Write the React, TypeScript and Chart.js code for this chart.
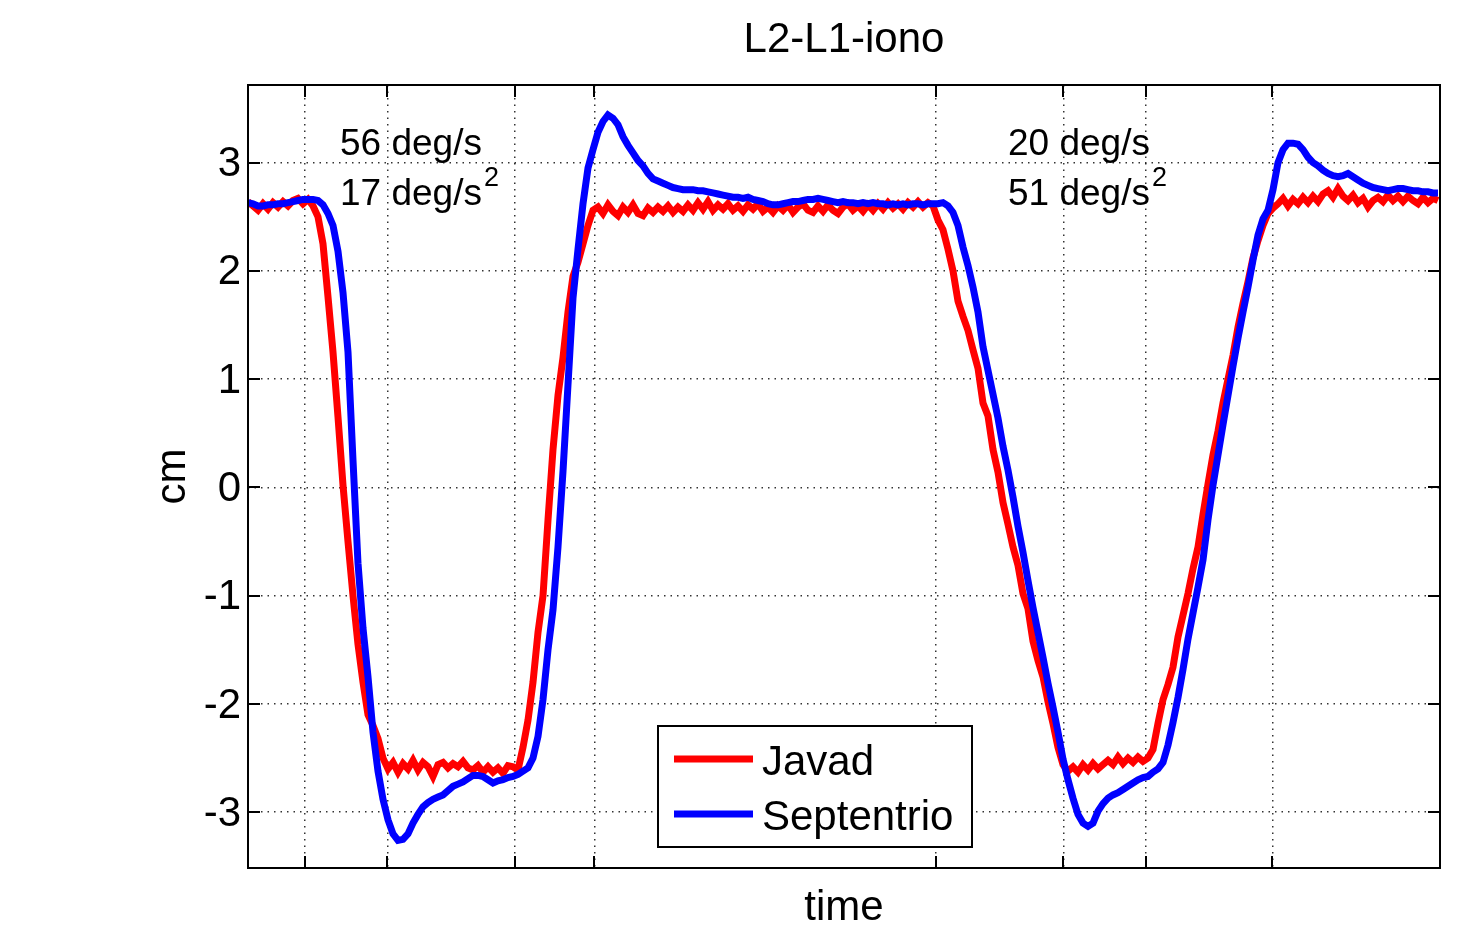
import { useEffect, useRef } from "react";
import { Chart, registerables } from "chart.js";

Chart.register(...registerables);

const FONT = "'Liberation Sans', Arial, Helvetica, sans-serif";

// Sampling interval of both receivers' series (seconds)
const SAMPLE_STEP = 0.5;

// L2-L1 ionospheric combination, cm — Javad receiver
const javad = [
  2.64, 2.6, 2.56, 2.62, 2.57, 2.63, 2.59, 2.64, 2.6, 2.65, 2.67, 2.62, 2.66,
  2.6, 2.5, 2.25, 1.76, 1.25, 0.65, 0.02, -0.5, -1.0, -1.45, -1.8, -2.1, -2.2, -2.32, -2.5,
  -2.6, -2.54, -2.63, -2.55, -2.6, -2.52, -2.61, -2.54, -2.58, -2.67, -2.56, -2.54, -2.59, -2.55,
  -2.58, -2.53, -2.59, -2.61, -2.57, -2.63, -2.58, -2.63, -2.59, -2.64, -2.57, -2.58, -2.61,
  -2.4, -2.15, -1.8, -1.34, -1.0, -0.3, 0.35, 0.85, 1.2, 1.62, 1.95, 2.08, 2.25, 2.42, 2.56,
  2.59, 2.53, 2.61, 2.55, 2.51, 2.59, 2.54, 2.61, 2.53, 2.51,
  2.58, 2.54, 2.59, 2.55, 2.6, 2.54, 2.59, 2.55, 2.61, 2.56,
  2.63, 2.57, 2.64, 2.56, 2.61, 2.57, 2.62, 2.56, 2.6, 2.55,
  2.61, 2.57, 2.62, 2.55, 2.59, 2.54, 2.6, 2.56, 2.61, 2.54,
  2.59, 2.62, 2.56, 2.54, 2.6, 2.55, 2.61, 2.56, 2.53, 2.59,
  2.62, 2.56, 2.6, 2.55, 2.61, 2.56, 2.62, 2.57, 2.63, 2.58,
  2.62, 2.57, 2.63, 2.59, 2.64, 2.59, 2.63, 2.6,
  2.47, 2.38, 2.2, 2.0, 1.72, 1.58, 1.45, 1.27, 1.1, 0.78, 0.66, 0.35, 0.14, -0.14, -0.34,
  -0.55, -0.72, -0.98, -1.12, -1.42, -1.6, -1.75, -1.98, -2.18, -2.4, -2.56, -2.62,
  -2.58, -2.63, -2.56, -2.61, -2.55, -2.6, -2.56, -2.52, -2.56, -2.49, -2.55, -2.5, -2.54,
  -2.49, -2.53, -2.5,
  -2.42, -2.18, -1.96, -1.82, -1.66, -1.38, -1.18, -0.98, -0.75, -0.55, -0.25, 0.03, 0.3,
  0.52, 0.78, 1.0, 1.22, 1.48, 1.7, 1.9, 2.12, 2.28, 2.42, 2.53, 2.58,
  2.62, 2.67, 2.6, 2.66, 2.62, 2.68, 2.63, 2.69, 2.64, 2.71, 2.74, 2.68, 2.76, 2.69, 2.65,
  2.7, 2.63, 2.67, 2.59, 2.65, 2.68, 2.64, 2.7, 2.65, 2.69, 2.64, 2.69, 2.65, 2.62, 2.68,
  2.63, 2.67, 2.65,
];

// L2-L1 ionospheric combination, cm — Septentrio receiver
const septentrio = [
  2.63, 2.62, 2.6, 2.6, 2.61, 2.61, 2.62, 2.62, 2.63, 2.64, 2.65, 2.66, 2.66, 2.66, 2.65,
  2.61, 2.53, 2.42, 2.18, 1.8, 1.25,
  0.25, -0.7, -1.3, -1.75, -2.26, -2.62, -2.88, -3.07, -3.2, -3.26,
  -3.25, -3.2, -3.1, -3.02, -2.95, -2.91, -2.88, -2.86, -2.84, -2.8,
  -2.76, -2.74, -2.72, -2.69, -2.66, -2.66, -2.67, -2.7, -2.73, -2.71,
  -2.7, -2.68, -2.67, -2.65, -2.62, -2.59, -2.5, -2.3, -1.96, -1.5, -1.13,
  -0.55, 0.15, 0.95, 1.75, 2.2, 2.62, 2.95, 3.12, 3.28, 3.38, 3.44, 3.41, 3.35, 3.24, 3.16,
  3.09, 3.02, 2.97, 2.9,
  2.85, 2.83, 2.81, 2.79, 2.77, 2.76, 2.75, 2.75, 2.75, 2.74,
  2.74, 2.73, 2.72, 2.71, 2.7, 2.69, 2.68, 2.68, 2.67, 2.68,
  2.66, 2.65, 2.64, 2.62, 2.61, 2.61, 2.62, 2.63, 2.64, 2.64,
  2.65, 2.66, 2.66, 2.67, 2.66, 2.65, 2.64, 2.63, 2.64, 2.63,
  2.63, 2.62, 2.63, 2.62, 2.63, 2.62, 2.62, 2.61, 2.62, 2.61,
  2.62, 2.61, 2.62, 2.62, 2.61, 2.62, 2.62, 2.62, 2.63, 2.6,
  2.54, 2.42, 2.22, 2.05, 1.85, 1.62, 1.3, 1.08, 0.86, 0.64,
  0.38, 0.16, -0.09, -0.36, -0.6, -0.86, -1.11, -1.34, -1.57, -1.81,
  -2.03, -2.26, -2.51, -2.7, -2.87, -3.02, -3.1, -3.13, -3.1, -2.99,
  -2.92, -2.87, -2.84, -2.82, -2.79, -2.76, -2.73, -2.7, -2.68, -2.67,
  -2.63, -2.6, -2.54, -2.38, -2.17, -1.94, -1.68, -1.4, -1.16, -0.92, -0.67,
  -0.3, 0.02, 0.3, 0.58, 0.85, 1.12, 1.38, 1.62, 1.85, 2.1,
  2.33, 2.48, 2.56, 2.75, 3.0, 3.12, 3.18, 3.18, 3.17, 3.12,
  3.05, 3.0, 2.97, 2.93, 2.9, 2.88, 2.87, 2.88, 2.9, 2.87,
  2.84, 2.81, 2.79, 2.77, 2.76, 2.75, 2.74, 2.75, 2.76, 2.76,
  2.75, 2.74, 2.74, 2.73, 2.73, 2.72, 2.72,
];

const time = javad.map((_, i) => i * SAMPLE_STEP);

// Phase boundaries of the rotation runs (s) — vertical grid lines
const phaseTimes = [5.7, 13.93, 26.7, 34.63, 68.8, 81.53, 89.77, 102.43];
const yTickValues = [-3, -2, -1, 0, 1, 2, 3];

const X_MIN = 0;
const X_MAX = 119.2;
const Y_MIN = -3.515;
const Y_MAX = 3.717;

// Rotation rate / acceleration notes for each run
const runNotes = [
  { t: 9.2, rate: "56 deg/s", accel: "17 deg/s" },
  { t: 76.0, rate: "20 deg/s", accel: "51 deg/s" },
];

const seriesColors = ["#ff0000", "#0000ff"];

const TICK_LEN = 12;

const matlabFrame = {
  id: "matlabFrame",
  afterDatasetsDraw(chart: any) {
    const { ctx, chartArea: a, scales } = chart;
    const xs = scales.x;
    const ys = scales.y;
    ctx.save();

    // inward tick marks on all four sides
    ctx.strokeStyle = "#000";
    ctx.lineWidth = 2;
    ctx.beginPath();
    for (const v of yTickValues) {
      const py = Math.round(ys.getPixelForValue(v));
      ctx.moveTo(a.left, py);
      ctx.lineTo(a.left + TICK_LEN, py);
      ctx.moveTo(a.right, py);
      ctx.lineTo(a.right - TICK_LEN, py);
    }
    for (const t of phaseTimes) {
      const px = Math.round(xs.getPixelForValue(t));
      ctx.moveTo(px, a.bottom);
      ctx.lineTo(px, a.bottom - TICK_LEN);
      ctx.moveTo(px, a.top);
      ctx.lineTo(px, a.top + TICK_LEN);
    }
    ctx.stroke();

    // axes box
    ctx.strokeRect(a.left, a.top, a.right - a.left, a.bottom - a.top);

    // run notes: rate on the first line, acceleration with squared unit on the second
    ctx.fillStyle = "#000";
    ctx.textBaseline = "alphabetic";
    ctx.textAlign = "left";
    for (const note of runNotes) {
      const px = xs.getPixelForValue(note.t);
      const base1 = a.top + 70;
      const base2 = a.top + 120;
      ctx.font = `37px ${FONT}`;
      ctx.fillText(note.rate, px, base1);
      ctx.fillText(note.accel, px, base2);
      const w = ctx.measureText(note.accel).width;
      ctx.font = `27px ${FONT}`;
      ctx.fillText("2", px + w + 2, base2 - 19);
    }

    // legend
    const labels = chart.data.datasets.map((d: any) => d.label);
    const boxL = a.left + 410;
    const boxT = a.top + 641;
    const boxW = 314;
    const boxH = 121;
    ctx.fillStyle = "#fff";
    ctx.fillRect(boxL, boxT, boxW, boxH);
    ctx.strokeStyle = "#000";
    ctx.lineWidth = 2;
    ctx.strokeRect(boxL, boxT, boxW, boxH);
    ctx.font = `42px ${FONT}`;
    labels.forEach((label: string, i: number) => {
      const rowY = boxT + 33 + i * 55;
      ctx.strokeStyle = seriesColors[i];
      ctx.lineWidth = 7;
      ctx.beginPath();
      ctx.moveTo(boxL + 16, rowY);
      ctx.lineTo(boxL + 95, rowY);
      ctx.stroke();
      ctx.fillStyle = "#000";
      ctx.fillText(label, boxL + 104, rowY + 16);
    });

    ctx.restore();
  },
};

export default function App() {
  const canvasRef = useRef<HTMLCanvasElement | null>(null);

  useEffect(() => {
    const canvas = canvasRef.current;
    if (!canvas) return;

    const toPoints = (vals: number[]) => vals.map((v, i) => ({ x: time[i], y: v }));

    const gridLine = {
      color: "rgba(0,0,0,0.8)",
      lineWidth: 1.5,
      drawTicks: false,
    };

    const chart = new Chart(canvas, {
      type: "line",
      data: {
        datasets: [
          {
            label: "Javad",
            data: toPoints(javad),
            borderColor: seriesColors[0],
            borderWidth: 7,
            pointRadius: 0,
            tension: 0,
            fill: false,
            order: 1,
          },
          {
            label: "Septentrio",
            data: toPoints(septentrio),
            borderColor: seriesColors[1],
            borderWidth: 7,
            pointRadius: 0,
            tension: 0,
            fill: false,
            order: 0,
          },
        ],
      },
      options: {
        responsive: false,
        animation: false,
        devicePixelRatio: 1,
        layout: { padding: { left: 0, right: 31, top: 0, bottom: 0 } },
        plugins: {
          legend: { display: false },
          tooltip: { enabled: false },
          title: {
            display: true,
            text: "L2-L1-iono",
            fullSize: false,
            color: "#000",
            font: { family: FONT, size: 42, weight: "normal", lineHeight: 1.2 },
            padding: { top: 15, bottom: 19.6 },
          },
        },
        scales: {
          x: {
            type: "linear",
            min: X_MIN,
            max: X_MAX,
            afterBuildTicks: (s: any) => {
              s.ticks = phaseTimes.map((value) => ({ value }));
            },
            afterFit: (s: any) => {
              s.height = 65;
            },
            ticks: { display: false },
            grid: gridLine,
            border: { display: false, dash: [1.5, 5] },
            title: {
              display: true,
              text: "time",
              color: "#000",
              font: { family: FONT, size: 42, lineHeight: 1.1 },
              padding: { top: 0, bottom: 1 },
            },
          },
          y: {
            type: "linear",
            min: Y_MIN,
            max: Y_MAX,
            afterBuildTicks: (s: any) => {
              s.ticks = yTickValues.map((value) => ({ value }));
            },
            afterFit: (s: any) => {
              s.width = 248;
            },
            ticks: {
              color: "#000",
              padding: 7,
              labelOffset: 2,
              font: { family: FONT, size: 42 },
              callback: (v: any) => String(v),
            },
            grid: gridLine,
            border: { display: false, dash: [1.5, 5] },
            title: {
              display: true,
              text: "cm",
              color: "#000",
              font: { family: FONT, size: 42 },
              padding: { top: 148, bottom: 0 },
            },
          },
        },
      },
      plugins: [matlabFrame],
    } as any);

    return () => chart.destroy();
  }, []);

  return (
    <div
      style={{
        position: "fixed",
        left: 0,
        top: 0,
        width: 1471,
        height: 933,
        background: "#fff",
      }}
    >
      <canvas ref={canvasRef} width={1471} height={933} />
    </div>
  );
}
